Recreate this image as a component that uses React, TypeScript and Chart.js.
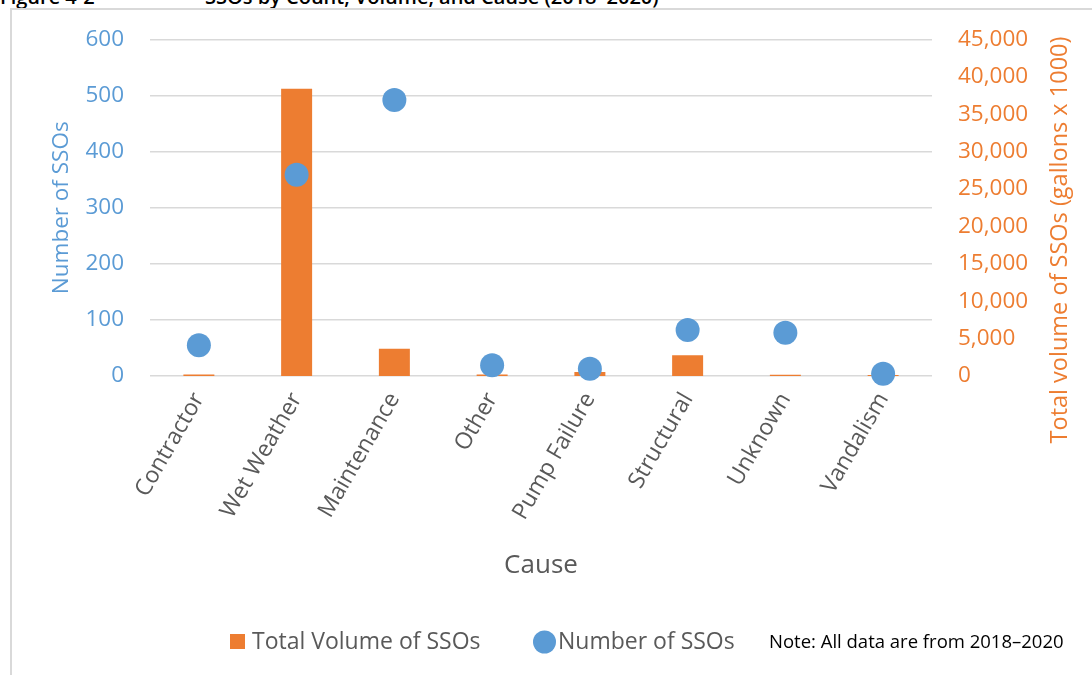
import { useEffect, useRef } from "react";
import { Chart, registerables } from "chart.js";

Chart.register(...registerables);

// Causes of sanitary sewer overflows, 2018–2020
const causes = [
  "Contractor",
  "Wet Weather",
  "Maintenance",
  "Other",
  "Pump Failure",
  "Structural",
  "Unknown",
  "Vandalism",
];

// Number of SSOs per cause
const ssoCounts = [55, 359, 492, 19, 13, 82, 77, 4];

// Total volume per cause (gallons x 1000)
const ssoVolumes = [200, 38400, 3660, 200, 530, 2770, 180, 120];

// Axis ranges
const countAxis = [0, 600, 100]; // min, max, step
const volumeAxis = [0, 45000, 5000];

const ORANGE = "#ED7D31";
const BLUE = "#5B9BD5";
const GRAY = "#595959";
const GRID = "#d9d9d9";
const FONT = "'Open Sans', sans-serif";

const W = 1092;
const H = 675;

// Draws the rotated right-hand axis title, the legend row and the note.
const extrasPlugin = {
  id: "ssoExtras",
  afterDraw(chart: any) {
    const ctx = chart.ctx as CanvasRenderingContext2D;
    const ds = chart.data.datasets;
    const yVol = chart.scales.yVolume;
    ctx.save();

    // right axis title, reading bottom-to-top
    ctx.save();
    ctx.translate(yVol.right - 32, 240);
    ctx.rotate(-Math.PI / 2);
    ctx.font = `23.5px ${FONT}`;
    ctx.fillStyle = ORANGE;
    ctx.textAlign = "center";
    ctx.textBaseline = "middle";
    ctx.fillText("Total volume of SSOs (gallons x 1000)", 0, 0);
    ctx.restore();

    // legend
    const ly = 642;
    ctx.font = `23px ${FONT}`;
    ctx.textBaseline = "middle";
    ctx.textAlign = "left";

    ctx.fillStyle = ds[0].backgroundColor;
    ctx.fillRect(230, ly - 8, 15, 15);
    ctx.fillStyle = GRAY;
    ctx.fillText(ds[0].label, 252, ly);

    ctx.fillStyle = ds[1].pointBackgroundColor;
    ctx.beginPath();
    ctx.arc(544.5, ly, 11.5, 0, Math.PI * 2);
    ctx.fill();
    ctx.fillStyle = GRAY;
    ctx.fillText(ds[1].label, 558, ly);

    // note
    ctx.font = `18.5px ${FONT}`;
    ctx.fillStyle = "#000000";
    ctx.fillText("Note: All data are from 2018\u20132020", 769, ly + 1);

    ctx.restore();
  },
};

export default function App() {
  const canvasRef = useRef<HTMLCanvasElement>(null);

  useEffect(() => {
    const canvas = canvasRef.current;
    if (!canvas) return;

    const chart = new Chart(canvas, {
      type: "bar",
      data: {
        labels: causes,
        datasets: [
          {
            type: "bar",
            label: "Total Volume of SSOs",
            data: ssoVolumes,
            yAxisID: "yVolume",
            backgroundColor: ORANGE,
            borderWidth: 0,
            barPercentage: 0.317,
            categoryPercentage: 1,
            order: 2,
          },
          {
            type: "line",
            label: "Number of SSOs",
            data: ssoCounts,
            yAxisID: "yCount",
            showLine: false,
            pointStyle: "circle",
            pointRadius: 12,
            pointHoverRadius: 12,
            pointBorderWidth: 0,
            pointBackgroundColor: BLUE,
            backgroundColor: BLUE,
            borderColor: BLUE,
            clip: false,
            order: 1,
          },
        ],
      } as any,
      options: {
        responsive: false,
        animation: false,
        events: [],
        layout: { padding: { top: 39, bottom: 85, left: 0, right: 0 } },
        plugins: {
          legend: { display: false },
          tooltip: { enabled: false },
        },
        scales: {
          x: {
            grid: { display: false },
            border: { display: false },
            ticks: {
              color: GRAY,
              font: { family: FONT, size: 23 },
              minRotation: 60,
              maxRotation: 60,
              autoSkip: false,
              padding: 4,
            },
            title: {
              display: true,
              text: "Cause",
              color: GRAY,
              font: { family: FONT, size: 26 },
              padding: { top: 0, bottom: 9 },
            },
            afterFit: (s: any) => {
              s.height = 214;
            },
          },
          yCount: {
            position: "left",
            min: countAxis[0],
            max: countAxis[1],
            ticks: {
              stepSize: countAxis[2],
              color: BLUE,
              font: { family: FONT, size: 22.5 },
              padding: 26,
            },
            grid: { color: GRID, lineWidth: 1.5, drawTicks: false },
            border: { display: false },
            title: {
              display: true,
              text: "Number of SSOs",
              color: BLUE,
              font: { family: FONT, size: 22.5 },
              padding: { top: 48, bottom: 0 },
            },
            afterFit: (s: any) => {
              s.width = 150;
            },
          },
          yVolume: {
            position: "right",
            min: volumeAxis[0],
            max: volumeAxis[1],
            ticks: {
              stepSize: volumeAxis[2],
              color: ORANGE,
              font: { family: FONT, size: 22.5 },
              padding: 26,
              callback: (v: any) => Number(v).toLocaleString("en-US"),
            },
            grid: { display: false, drawTicks: false },
            border: { display: false },
            afterFit: (s: any) => {
              s.width = 160;
            },
          },
        },
      } as any,
      plugins: [extrasPlugin],
    });

    return () => chart.destroy();
  }, []);

  return (
    <div
      style={{
        position: "absolute",
        left: 0,
        top: 0,
        width: W,
        height: H,
        overflow: "hidden",
        background: "#ffffff",
      }}
    >
      <div
        style={{
          position: "absolute",
          left: 0,
          top: -13,
          whiteSpace: "pre",
          fontFamily: FONT,
          fontWeight: 600,
          fontSize: 20,
          lineHeight: "20px",
          color: "#000000",
        }}
      >
        <span style={{ position: "absolute", left: 0 }}>Figure 4-2</span>
        <span style={{ position: "absolute", left: 205 }}>
          SSOs by Count, Volume, and Cause (2018–2020)
        </span>
      </div>
      <div
        style={{
          position: "absolute",
          left: 10,
          top: 8,
          width: W,
          height: H,
          borderLeft: `2px solid ${GRID}`,
          borderTop: `2px solid ${GRID}`,
        }}
      />
      <canvas
        ref={canvasRef}
        width={W}
        height={H}
        style={{ position: "absolute", left: 0, top: 0, display: "block" }}
      />
    </div>
  );
}
